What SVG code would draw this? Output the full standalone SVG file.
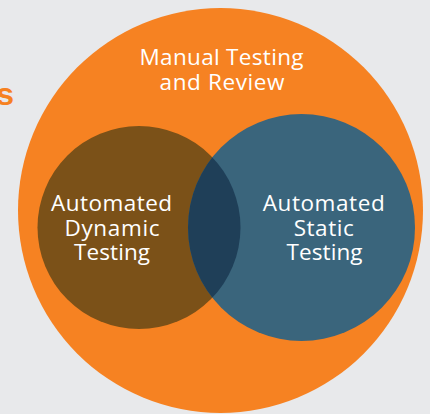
<svg xmlns="http://www.w3.org/2000/svg" width="430" height="414" viewBox="0 0 430 414">
<style>
.lbl{font-family:"Open Sans","Liberation Sans",Arial,sans-serif;font-size:22.5px;fill:#ffffff;text-anchor:middle}
</style>
<rect width="430" height="414" fill="#E8E9EB"/>
<text x="14" y="105" style="font-family:'Liberation Sans',Arial,sans-serif;font-weight:bold;font-size:32px;fill:#F68121;text-anchor:end">s</text>
<g id="manual">
<circle cx="220.5" cy="210.5" r="202.5" fill="#F68222"/>
<text class="lbl" x="221.5" y="65" textLength="164" lengthAdjust="spacing">Manual Testing</text>
<text class="lbl" x="222" y="90" textLength="125" lengthAdjust="spacing">and Review</text>
</g>
<g id="dynamic">
<circle cx="139" cy="227.5" r="101.5" fill="#7B5118"/>
</g>
<g id="static">
<circle cx="301.5" cy="227.5" r="113.5" fill="#3A657C"/>
</g>
<g id="overlap">
<clipPath id="cp"><circle cx="139" cy="227.5" r="101.5"/></clipPath>
<circle cx="301.5" cy="227.5" r="113.5" fill="#1F3F58" clip-path="url(#cp)"/>
</g>
<g id="labels">
<text class="lbl" x="111.5" y="211" textLength="121" lengthAdjust="spacing">Automated</text>
<text class="lbl" x="112" y="235.5" textLength="95" lengthAdjust="spacing">Dynamic</text>
<text class="lbl" x="112" y="260" textLength="76" lengthAdjust="spacing">Testing</text>
<text class="lbl" x="323.7" y="211" textLength="122" lengthAdjust="spacing">Automated</text>
<text class="lbl" x="323.7" y="235.5" textLength="60" lengthAdjust="spacing">Static</text>
<text class="lbl" x="324.5" y="260" textLength="76" lengthAdjust="spacing">Testing</text>
</g>
<g id="connectors"/>
</svg>
